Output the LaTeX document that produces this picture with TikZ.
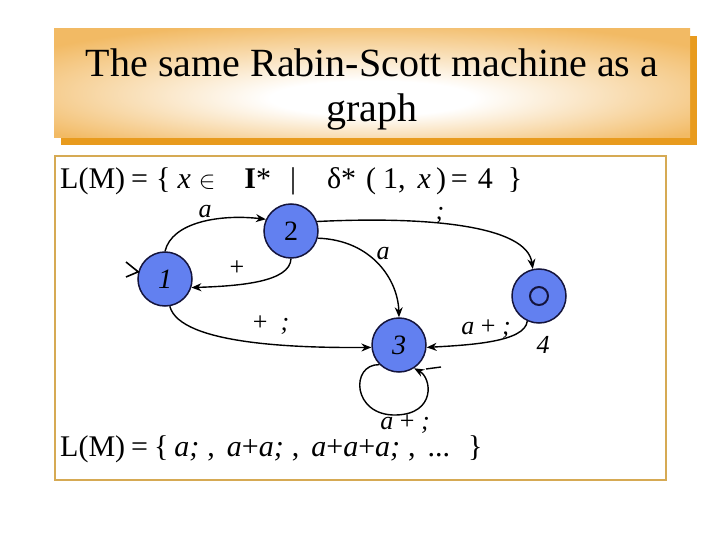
\documentclass[tikz,border=0pt]{standalone}
\usepackage{fontspec}
\setmainfont{Liberation Serif}
\usetikzlibrary{arrows.meta}
\definecolor{titleor}{RGB}{242,186,100}
\definecolor{shadowor}{RGB}{232,155,30}
\definecolor{boxgold}{RGB}{214,170,84}
\definecolor{nodeblue}{RGB}{98,128,240}
\definecolor{nodeline}{RGB}{20,20,60}
\pgfdeclareradialshading{titleglow}{\pgfpoint{0bp}{-8bp}}{color(0bp)=(white); color(8bp)=(white); color(32bp)=(titleor); color(50bp)=(titleor)}
\newcommand{\gp}[1]{\hspace{#1pt}}
\tikzset{
  state/.style={circle, draw=nodeline, fill=nodeblue, line width=1.5pt, minimum size=54pt, inner sep=0pt, font=\fontsize{28}{28}\selectfont},
  edge/.style={line width=1.4pt, -{Stealth[length=10pt,width=8pt]}},
  elab/.style={font=\fontsize{26}{26}\selectfont, inner sep=0pt},
  bigtext/.style={font=\fontsize{30}{30}\selectfont, inner sep=0pt, anchor=base west},
  titletext/.style={font=\fontsize{40}{40}\selectfont, inner sep=0pt, anchor=base},
}
\begin{document}
\begin{tikzpicture}[x=1pt,y=-1pt]
\useasboundingbox (0,0) rectangle (720,540);
\fill[white] (0,0) rectangle (720,540);
% title
\fill[shadowor] (61,36) rectangle (697,145);
\shade[shading=titleglow] (54,29) rectangle (690,138);
\node[titletext] (t1) at (372,77) {The same Rabin-Scott machine as a};
\node[titletext] (t2) at (372,122) {graph};
% content box
\draw[boxgold, line width=2pt] (55,156) rectangle (666,480);
\node[bigtext] (f1) at (60,189) {L(M)\gp{6}=\gp{8}\{\gp{7}\textit{x}\gp{8}$\in$\gp{29}\textbf{I}*\gp{19}|\gp{31}δ*\gp{10}(\gp{7}1,\gp{12}\textit{x}\gp{5})\gp{5}=\gp{10}4\gp{15}\}};
\node[bigtext] (f2) at (60,456) {L(M)\gp{6}=\gp{6}\{\gp{6}\textit{a;}\gp{8},\gp{12}\textit{a}+\textit{a;}\gp{8},\gp{12}\textit{a}+\textit{a}+\textit{a;}\gp{8},\gp{12}...\gp{18}\}};
% states
\node[state] (n1) at (165,279) {\textit{1}};
\node[state] (n2) at (291,231) {2};
\node[state] (n3) at (399,345) {\textit{3}};
\node[state] (n4) at (539,296) {};
\draw[nodeline, line width=2pt] (n4.center) circle[radius=9pt];
\node[elab] (l4) at (543,345) {\textit{4}};
% initial marker
\coordinate (i1) at (126,262);
\coordinate (i2) at (126,277);
\draw[line width=1.6pt] (i1) -- (n1.165) -- (i2);
% edges
\draw[edge] (n1.north) .. controls (172,222) and (220,214) .. (n2.155);
\node[elab] (la12) at (205,212) {\textit{a}};
\draw[edge] (n2.south) .. controls (290,282) and (240,286) .. (n1.-18);
\node[elab] (la21) at (237,268) {+};
\draw[edge] (n2.20) .. controls (430,216) and (527,226) .. (n4.103);
\node[elab] (la24) at (440,215) {\textit{;}};
\draw[edge] (n2.-15) .. controls (372,240) and (398,280) .. (n3.north);
\node[elab] (la23) at (383,254) {\textit{a}};
\draw[edge] (n1.-80) .. controls (180,345) and (300,348) .. (n3.-175);
\node[elab] (la13) at (271,325) {+\ \ \textit{;}};
\draw[edge] (n4.-115) .. controls (525,342) and (470,345) .. (n3.-5);
\node[elab] (la43) at (486,329) {\textit{a} + \textit{;}};
\draw[edge] (n3.-135) .. controls (350,364) and (352,416) .. (396,415) .. controls (436,414) and (432,378) .. (n3.-57);
\coordinate (k1) at (426,369);
\coordinate (k2) at (441,367);
\draw[line width=1.4pt] (k1) -- (k2);
\node[elab] (la33) at (405,424) {\textit{a} + \textit{;}};
\end{tikzpicture}
\end{document}
